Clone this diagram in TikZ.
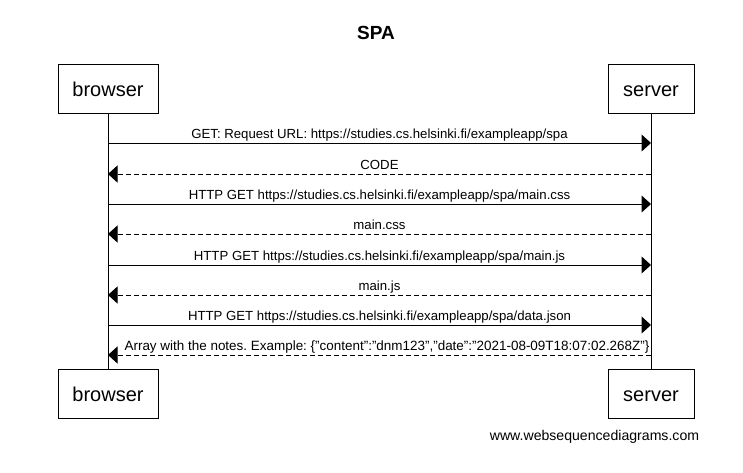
\documentclass[tikz,border=0pt]{standalone}
\usepackage{fontspec}
\setmainfont{Liberation Sans}
\usetikzlibrary{arrows.meta}
\begin{document}
\frenchspacing
\begin{tikzpicture}[x=1pt,y=-1pt,line width=1pt,>={Triangle[length=9.5pt,width=17pt]},
    actor/.style={draw,minimum height=49pt,inner sep=0pt,text height=15pt,text depth=0pt,font=\fontsize{20}{24}\selectfont},
    msg/.style={above=2pt,inner sep=0pt,text depth=2.5pt,font=\fontsize{13.2}{15}\selectfont},
    reply/.style={->,dash pattern=on 5pt off 3pt}]
\useasboundingbox[fill=white] (0,0) rectangle (743,472);
\node (title) at (376,33) {\fontsize{19}{23}\selectfont\bfseries SPA};
% actors begin
\node[actor,minimum width=100pt] (browser) at (108,88.5) {browser};
\node[actor,minimum width=86pt] (server) at (651,88.5) {server};
\node[actor,minimum width=100pt] (browserbot) at (108,393.5) {browser};
\node[actor,minimum width=86pt] (serverbot) at (651,393.5) {server};
\draw (browser) -- (browserbot);
\draw (server) -- (serverbot);
% actors end
\coordinate (b1) at (108,143); \coordinate (s1) at (651,143);
\coordinate (b2) at (108,174); \coordinate (s2) at (651,174);
\coordinate (b3) at (108,204); \coordinate (s3) at (651,204);
\coordinate (b4) at (108,234); \coordinate (s4) at (651,234);
\coordinate (b5) at (108,265); \coordinate (s5) at (651,265);
\coordinate (b6) at (108,295); \coordinate (s6) at (651,295);
\coordinate (b7) at (108,325); \coordinate (s7) at (651,325);
\coordinate (b8) at (108,355); \coordinate (s8) at (651,355);
\draw[->] (b1) -- node[msg] {GET: Request URL: https://studies.cs.helsinki.fi/exampleapp/spa} (s1);
\draw[reply] (s2) -- node[msg] {CODE} (b2);
\draw[->] (b3) -- node[msg] {HTTP GET https://studies.cs.helsinki.fi/exampleapp/spa/main.css} (s3);
\draw[reply] (s4) -- node[msg] {main.css} (b4);
\draw[->] (b5) -- node[msg] {HTTP GET https://studies.cs.helsinki.fi/exampleapp/spa/main.js} (s5);
\draw[reply] (s6) -- node[msg] {main.js} (b6);
\draw[->] (b7) -- node[msg] {HTTP GET https://studies.cs.helsinki.fi/exampleapp/spa/data.json} (s7);
\draw[reply] (s8) -- node[msg,xshift=7.5pt,font=\fontsize{13.45}{15}\selectfont] {Array with the notes. Example: \{"content":"dnm123","date":"2021-08-09T18:07:02.268Z"\}} (b8);
\node (watermark) at (594.5,437) {\fontsize{14.1}{17}\selectfont www.websequencediagrams.com};
\end{tikzpicture}
\end{document}
